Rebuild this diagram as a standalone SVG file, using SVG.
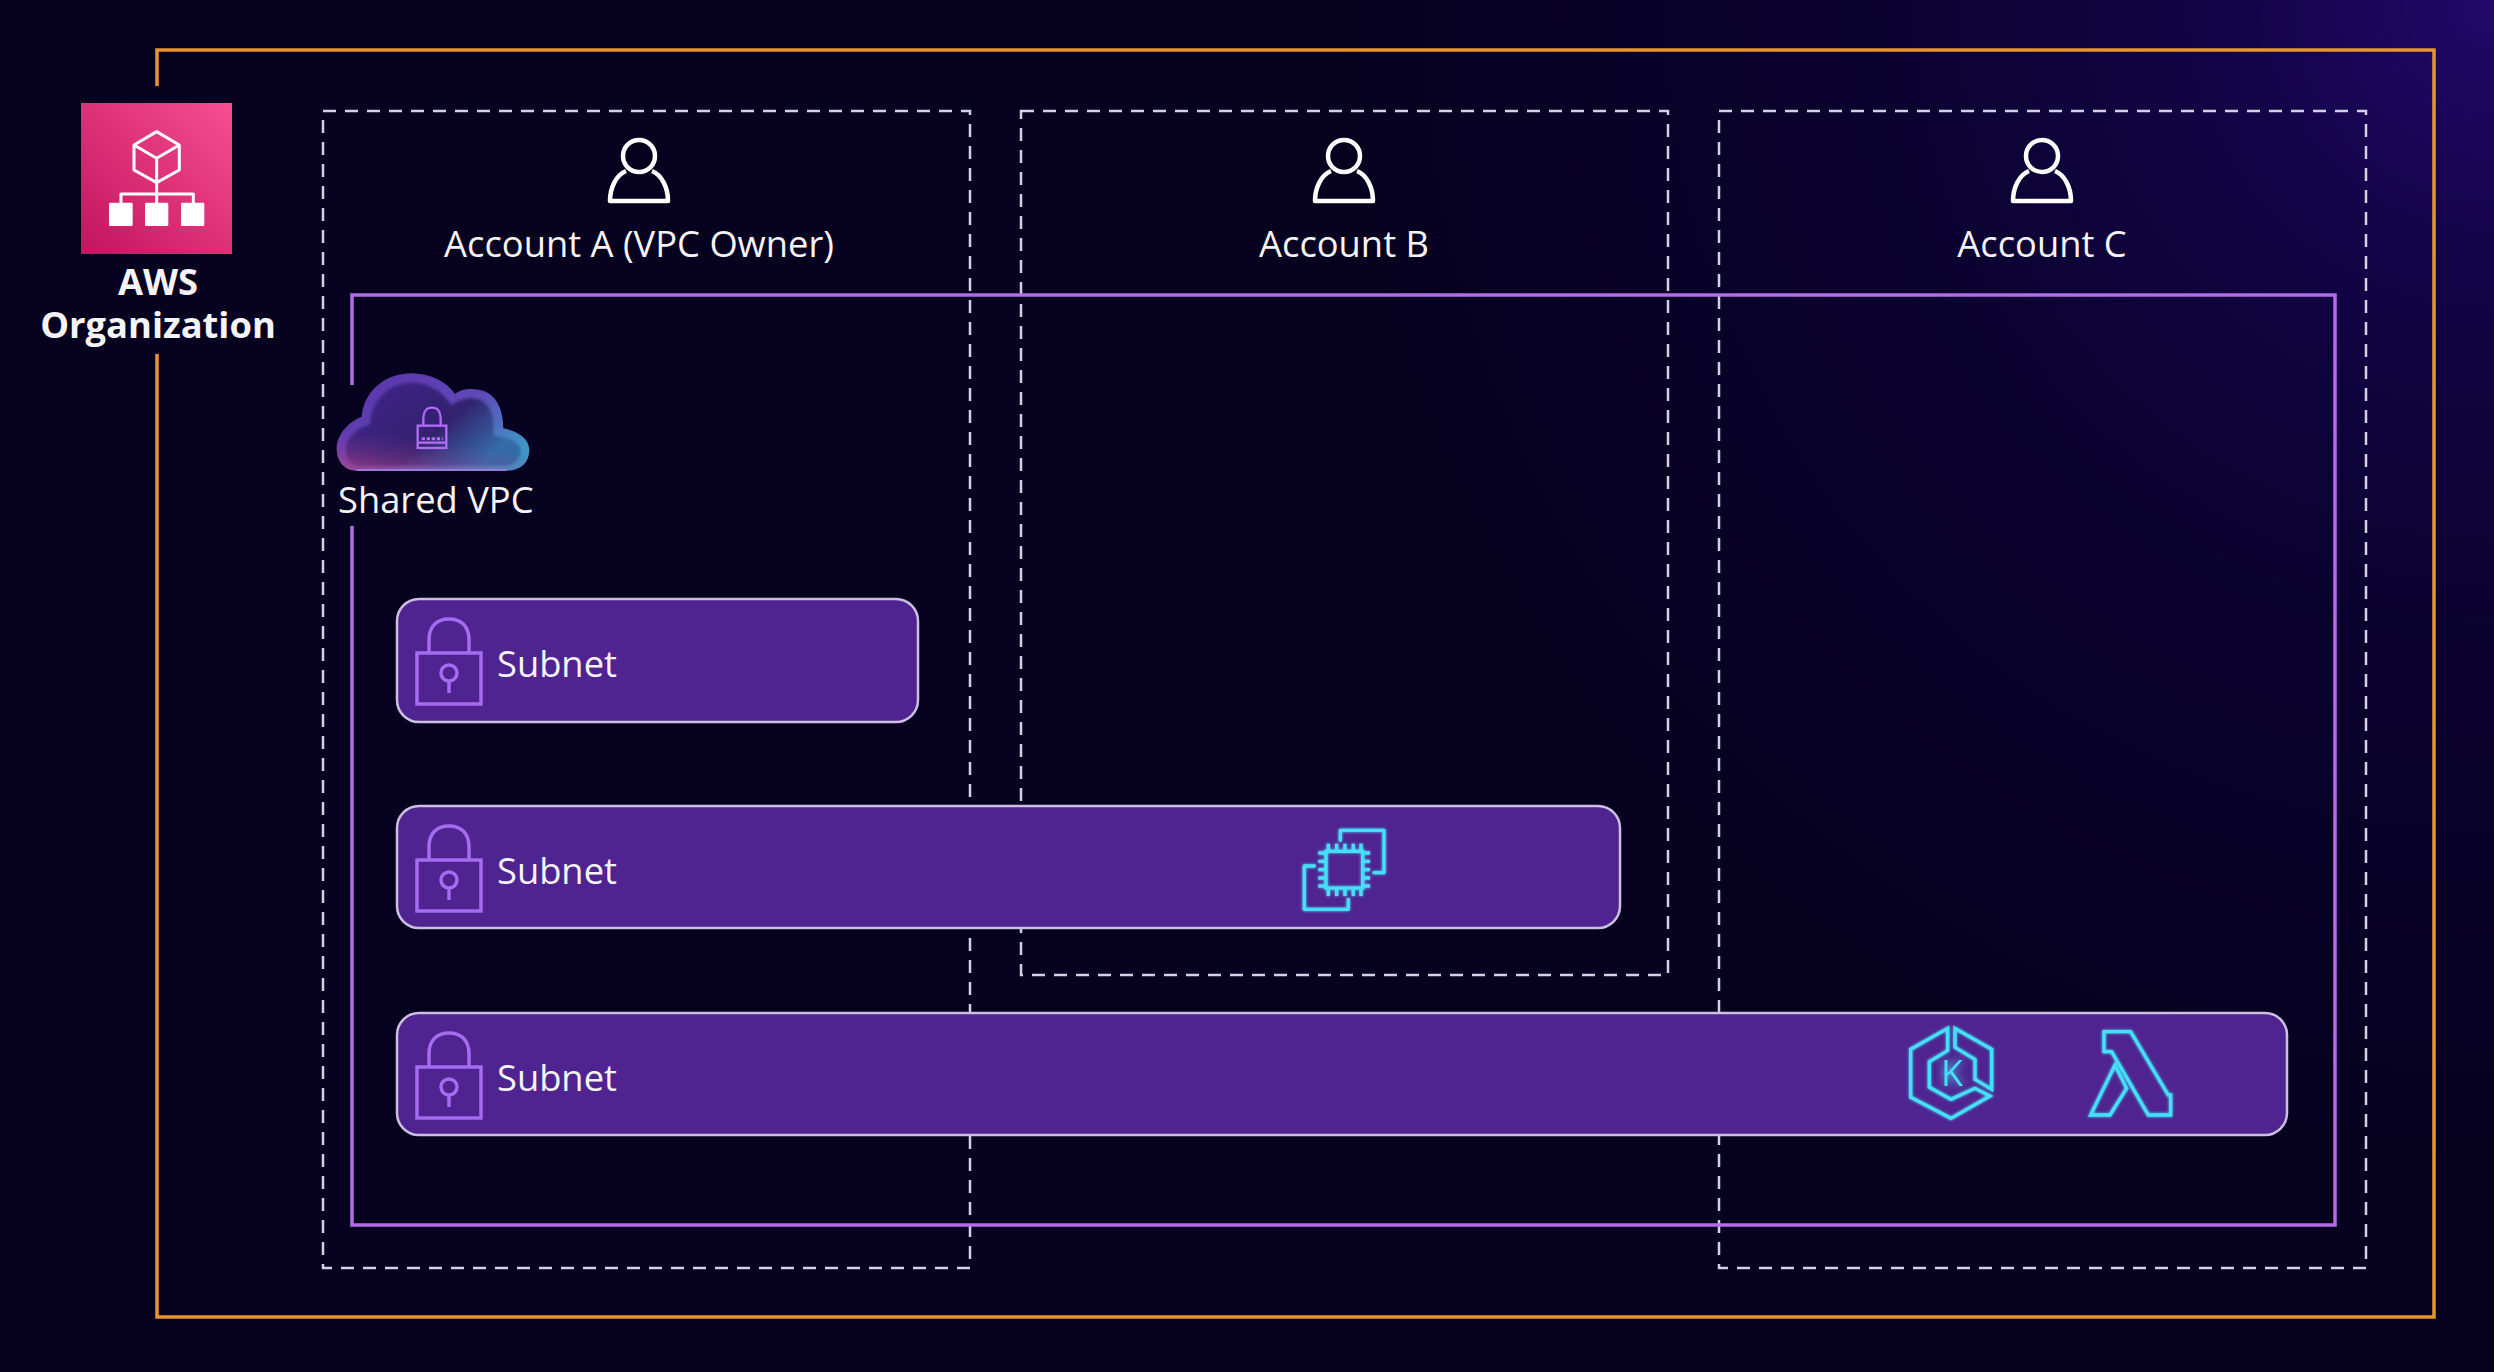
<svg xmlns="http://www.w3.org/2000/svg" width="2494" height="1372" viewBox="0 0 2494 1372">
<style>
text{font-family:"Open Sans","Noto Sans","Liberation Sans",sans-serif;fill:#f6f4fb;font-size:36.3px}
.c{text-anchor:middle}.b{font-weight:700}
.dash{fill:none;stroke:#d6d0e4;stroke-width:2.5;stroke-dasharray:13 9}
.sub{fill:#4f2390;stroke:#cdbfe2;stroke-width:2.5}
.lock{fill:none;stroke:#a56bf0;stroke-width:3.5}
.cy{fill:none;stroke:#45dff7;stroke-width:10;stroke-linejoin:miter;filter:url(#glow)}
.person{fill:none;stroke:#fff;stroke-width:4.5;stroke-linejoin:round}
.w{fill:none;stroke:#fff;stroke-width:9}
</style>
<defs>
<radialGradient id="bgGlow" gradientUnits="userSpaceOnUse" cx="2494" cy="0" r="1150">
<stop offset="0" stop-color="#21086a"/><stop offset=".22" stop-color="#130448"/><stop offset=".55" stop-color="#0a022e"/><stop offset="1" stop-color="#06011f"/>
</radialGradient>
<linearGradient id="pink" x1="0" y1="1" x2="1" y2="0"><stop offset="0" stop-color="#c3145f"/><stop offset="1" stop-color="#f64e90"/></linearGradient>
<linearGradient id="cloudEdge" x1="0" y1="0" x2="1" y2=".7"><stop offset="0" stop-color="#5b2fa8"/><stop offset=".6" stop-color="#5f49b8"/><stop offset="1" stop-color="#3f95c6"/></linearGradient>
<linearGradient id="cloudFill" x1="0" y1="0" x2="1" y2=".55"><stop offset="0" stop-color="#40208e"/><stop offset=".65" stop-color="#33246f"/><stop offset="1" stop-color="#356aa8"/></linearGradient>
<linearGradient id="cloudGlow" x1="0" y1="1" x2=".3" y2="0"><stop offset="0" stop-color="#c8487e" stop-opacity=".65"/><stop offset=".28" stop-color="#a03c90" stop-opacity=".2"/><stop offset=".42" stop-color="#a03c90" stop-opacity="0"/></linearGradient>
<filter id="glow" x="-20%" y="-20%" width="140%" height="140%"><feGaussianBlur stdDeviation="5" result="b"/><feMerge><feMergeNode in="b"/><feMergeNode in="SourceGraphic"/></feMerge></filter>
<filter id="soft" x="-5%" y="-5%" width="110%" height="110%"><feGaussianBlur stdDeviation="5"/></filter>
<g id="lk"><path class="lock" d="M429 653V640C429 626 437 619 449 619S469 626 469 640V653"/><rect class="lock" x="417" y="653" width="64" height="51"/><circle class="lock" cx="449" cy="673" r="8"/><path class="lock" d="M449 681V693"/></g>
<g id="usr"><circle class="person" cx="0" cy="-16" r="16"/><path class="person" d="M-13 -1C-23 3-29 16-29 29H29C29 16 23 3 13 -1"/></g>
</defs>
<rect width="2494" height="1372" fill="url(#bgGlow)"/>
<g id="connectors">
<path d="M157 86V50H2434V1317H157V354" fill="none" stroke="#e8952f" stroke-width="3.500"/>
<rect class="dash" x="323" y="111" width="647" height="1157"/>
<rect class="dash" x="1021" y="111" width="647" height="864"/>
<rect class="dash" x="1719" y="111" width="647" height="1157"/>
<path d="M352 385V295H2335V1225H352V526" fill="none" stroke="#b56be8" stroke-width="3.500"/>
</g>
<g id="org">
<rect x="81" y="103" width="151" height="151" fill="url(#pink)"/>
<g transform="translate(60 90) scale(.3333)">
<path class="w" stroke-linejoin="round" d="M290 125L358 165V240L290 278L222 240V165ZM222 165L290 205L358 165M290 205V278M290 278V340M183 340V312H400V340"/>
<g fill="#fff"><rect x="147" y="338" width="71" height="70" rx="4"/><rect x="255" y="338" width="70" height="70" rx="4"/><rect x="363" y="338" width="70" height="70" rx="4"/></g>
</g>
<text class="c b" x="158" y="295"><tspan x="158">AWS</tspan><tspan x="158" dy="43">Organization</tspan></text>
</g>
<g id="account-a"><use href="#usr" x="639" y="172"/><text class="c" x="639" y="257">Account A (VPC Owner)</text></g>
<g id="account-b"><use href="#usr" x="1344" y="172"/><text class="c" x="1344" y="257">Account B</text></g>
<g id="account-c"><use href="#usr" x="2042" y="172"/><text class="c" x="2042" y="257">Account C</text></g>
<g id="shared-vpc">
<g transform="translate(320 360) scale(.3333)">
<path fill="url(#cloudEdge)" d="M110 332C70 332 50 300 50 265C50 225 85 185 125 170C130 100 190 40 275 40C330 40 380 65 405 102C425 85 455 85 480 90C530 100 550 150 550 205C600 215 628 240 628 270C628 310 600 332 560 332Z"/>
<path fill="url(#cloudFill)" filter="url(#soft)" d="M118 318C90 318 78 295 78 268C78 235 110 205 150 192C152 125 205 68 275 68C325 68 365 92 395 135C420 115 450 112 475 118C510 128 525 170 520 228C575 232 602 250 602 272C602 300 580 318 550 318Z"/>
<path fill="url(#cloudGlow)" d="M110 332C70 332 50 300 50 265C50 225 85 185 125 170C130 100 190 40 275 40C330 40 380 65 405 102C425 85 455 85 480 90C530 100 550 150 550 205C600 215 628 240 628 270C628 310 600 332 560 332Z"/>
<path d="M110 330H560" stroke="#9a7ad8" stroke-width="6" fill="none"/>
<g fill="none" stroke="#b06cf4" stroke-width="7"><path d="M310 197V175C310 155 320 143 336 143S362 155 362 175V197"/><rect x="293" y="197" width="86" height="67"/><path d="M293 248H379"/><path d="M305 236H368" stroke-dasharray="10 5" stroke-width="9"/></g>
</g>
<text x="338" y="513">Shared VPC</text>
</g>
<g id="subnet-1"><rect class="sub" x="397" y="599" width="521" height="123" rx="22"/><use href="#lk"/><text x="497" y="677">Subnet</text></g>
<g id="subnet-2"><rect class="sub" x="397" y="806" width="1223" height="122" rx="22"/><use href="#lk" y="207"/><text x="497" y="884">Subnet</text>
<g transform="translate(1270 802) scale(.3333)"><g class="cy" stroke-linejoin="round"><path stroke-linecap="round" stroke-linejoin="round" d="M211 115V85H342V212H312M133 192H103V322H235V292"/><rect x="168" y="148" width="110" height="110"/><path d="M175 125V148M200 125V148M225 125V148M250 125V148M273 125V148M175 258V282M200 258V282M225 258V282M250 258V282M273 258V282M145 153H168M145 178H168M145 203H168M145 228H168M145 252H168M278 153H300M278 178H300M278 203H300M278 228H300M278 252H300"/></g></g>
</g>
<g id="subnet-3"><rect class="sub" x="397" y="1013" width="1890" height="122" rx="22"/><use href="#lk" y="414"/><text x="497" y="1091">Subnet</text>
<g transform="translate(1880 1000) scale(.3333)">
<path class="cy" d="M203 85L92 148V292L213 355L330 288L285 265L213 298L148 262V185L203 152Z"/>
<path class="cy" d="M225 85L335 148V268L285 238V178L225 142Z"/>
<path class="cy" d="M672 95H752L865 285H872V345H805L695 155H672Z"/>
<path class="cy" d="M705 195L740 265L690 345H632Z"/>
</g>
<text x="1952" y="1086" class="c" style="fill:#45dff7;font-size:36px" filter="url(#glow)">K</text>
</g>
</svg>
